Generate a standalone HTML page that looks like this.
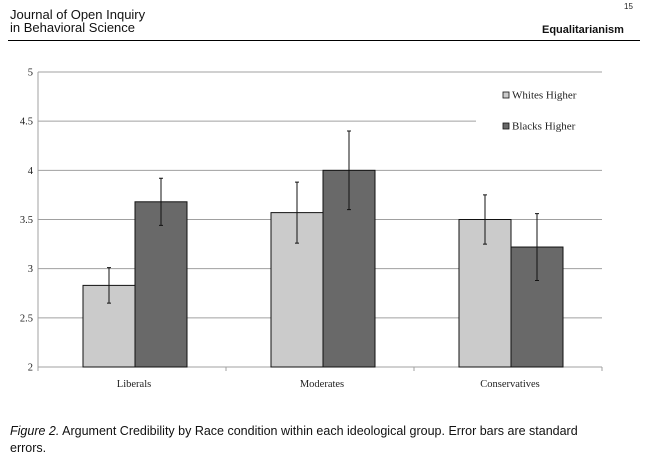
<!DOCTYPE html>
<html><head><meta charset="utf-8"><style>
body{margin:0;width:650px;height:457px;background:#fff;position:relative;overflow:hidden;font-family:"Liberation Sans",sans-serif}
.t{position:absolute;white-space:nowrap}
</style></head><body>
<div class="t" style="left:10px;top:8px;font-size:13px;line-height:13px;color:#111">Journal of Open Inquiry<br>in Behavioral Science</div>
<div class="t" style="left:624px;top:2px;font-size:8px;color:#222">15</div>
<div class="t" style="left:542px;top:24px;font-size:11px;font-weight:bold;color:#111">Equalitarianism</div>
<div style="position:absolute;left:8px;top:40px;width:632px;height:1px;background:#000"></div>
<svg id="c" width="650" height="457" style="position:absolute;left:0;top:0" font-family="Liberation Serif, serif"></svg>
<div class="t" style="left:10px;top:423px;font-size:12.5px;line-height:17px;color:#111"><i>Figure 2.</i> Argument Credibility by Race condition within each ideological group. Error bars are standard<br>errors.</div>
<script>
const categories=["Liberals","Moderates","Conservatives"];
const whites=[2.83,3.57,3.50];
const whitesErr=[0.18,0.31,0.25];
const blacks=[3.68,4.00,3.22];
const blacksErr=[0.24,0.40,0.34];
const ticks=[2,2.5,3,3.5,4,4.5,5];
const NS="http://www.w3.org/2000/svg";
const svg=document.getElementById('c');
const x0=38,x1=602,yTop=72,yBot=367,vmin=2,vmax=5;
const y=v=>yBot-(v-vmin)/(vmax-vmin)*(yBot-yTop);
const gw=(x1-x0)/categories.length;
function mk(t,a){const e=document.createElementNS(NS,t);for(const k in a)e.setAttribute(k,a[k]);svg.appendChild(e);return e;}
ticks.forEach((t,i)=>{
 const g=mk('line',{x1:x0,x2:t===4.5?476:x1,y1:y(t),y2:y(t),stroke:'#a0a0a0','stroke-width':1});
 
 
 const l=mk('text',{x:x0-5,y:y(t)+3.5,'text-anchor':'end','font-size':10.5,fill:'#222'});
 l.textContent=String(t);
 
 
});
let a=mk('line',{x1:x0,x2:x0,y1:yTop,y2:yBot+3,stroke:'#a0a0a0'});


for(let i=0;i<=3;i++){const tk=mk('line',{x1:x0+i*gw,x2:x0+i*gw,y1:yBot,y2:yBot+4,stroke:'#a0a0a0'});
 
 }
const bw=52;
function bar(cx,v,e,fill,name){
 const r=mk('rect',{x:cx,y:y(v),width:bw,height:yBot-y(v),fill:fill,stroke:'#111','stroke-width':1});
 
 
 const m=cx+bw/2;
 const eb=mk('path',{d:`M${m},${y(v+e)}V${y(v-e)}M${m-2},${y(v+e)}H${m+2}M${m-2},${y(v-e)}H${m+2}`,stroke:'#111','stroke-width':1,fill:'none'});
 
 
}
categories.forEach((c,i)=>{
 const cx=x0+gw*i+gw/2+3;
 bar(cx-bw,whites[i],whitesErr[i],'#cbcbcb','bar-whites-'+c.toLowerCase());
 bar(cx,blacks[i],blacksErr[i],'#696969','bar-blacks-'+c.toLowerCase());
 const t=mk('text',{x:cx-1,y:387,'text-anchor':'middle','font-size':10.5,fill:'#222'});
 t.textContent=c;
 
 
});
[['Whites Higher','#cbcbcb',97],['Blacks Higher','#696969',128]].forEach(([n,f,yy])=>{
 const s=mk('rect',{x:503,y:yy-5,width:6,height:6,fill:f,stroke:'#111','stroke-width':0.8});
 
 
 const t=mk('text',{x:512,y:yy+1.5,'font-size':11,fill:'#222'});
 t.textContent=n;
 
 
});
</script>
</body></html>
